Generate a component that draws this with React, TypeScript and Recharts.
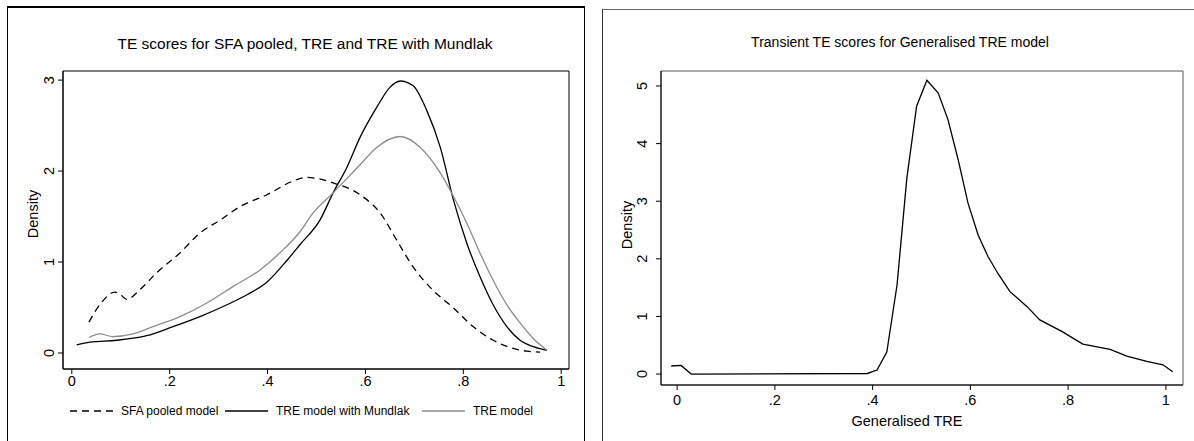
import React from "react";
import { LineChart, Line, XAxis, YAxis, ReferenceArea } from "recharts";

// ---------- Left panel data ----------
const sfaPooledX = [0.035, 0.06, 0.088, 0.1, 0.112, 0.14, 0.173, 0.221, 0.262, 0.303, 0.344, 0.399, 0.452, 0.48, 0.534, 0.589, 0.63, 0.664, 0.697, 0.738, 0.779, 0.82, 0.861, 0.902, 0.93, 0.957];
const sfaPooledY = [0.34, 0.55, 0.67, 0.64, 0.59, 0.7, 0.88, 1.1, 1.32, 1.46, 1.61, 1.74, 1.89, 1.93, 1.87, 1.74, 1.54, 1.24, 0.95, 0.69, 0.5, 0.29, 0.14, 0.05, 0.02, 0.01];

const treMundlakX = [0.01, 0.037, 0.092, 0.153, 0.207, 0.262, 0.317, 0.358, 0.399, 0.44, 0.466, 0.507, 0.534, 0.562, 0.589, 0.623, 0.65, 0.671, 0.697, 0.725, 0.753, 0.78, 0.807, 0.834, 0.861, 0.889, 0.916, 0.943, 0.971];
const treMundlakY = [0.09, 0.12, 0.14, 0.19, 0.29, 0.4, 0.53, 0.64, 0.78, 1.02, 1.19, 1.46, 1.76, 2.04, 2.37, 2.7, 2.92, 2.99, 2.94, 2.67, 2.26, 1.68, 1.21, 0.84, 0.53, 0.29, 0.14, 0.07, 0.03];

const treModelX = [0.035, 0.057, 0.084, 0.125, 0.166, 0.221, 0.276, 0.329, 0.384, 0.425, 0.466, 0.493, 0.534, 0.589, 0.623, 0.671, 0.712, 0.753, 0.78, 0.807, 0.834, 0.861, 0.889, 0.916, 0.943, 0.971];
const treModelY = [0.17, 0.21, 0.18, 0.21, 0.29, 0.4, 0.55, 0.73, 0.91, 1.1, 1.33, 1.54, 1.76, 2.07, 2.26, 2.38, 2.26, 1.98, 1.72, 1.43, 1.1, 0.8, 0.53, 0.33, 0.16, 0.03];

const leftXTicks = [0, 0.2, 0.4, 0.6, 0.8, 1];
const leftYTicks = [0, 1, 2, 3];

const leftSeriesNames = ["SFA pooled model", "TRE model with Mundlak", "TRE model"];
const leftSeriesColors = ["#000", "#000", "#8c8c8c"];
const leftSeriesDash = ["7 5", undefined, undefined];

// ---------- Right panel data ----------
const genTreX = [-0.012, 0.008, 0.029, 0.389, 0.409, 0.429, 0.45, 0.47, 0.49, 0.511, 0.534, 0.554, 0.575, 0.595, 0.616, 0.636, 0.656, 0.681, 0.716, 0.742, 0.787, 0.83, 0.886, 0.92, 0.961, 0.994, 1.014];
const genTreY = [0.14, 0.15, 0.0, 0.01, 0.07, 0.38, 1.55, 3.4, 4.65, 5.1, 4.88, 4.42, 3.72, 2.97, 2.41, 2.04, 1.75, 1.43, 1.17, 0.94, 0.74, 0.52, 0.43, 0.31, 0.22, 0.16, 0.04];

const rightXTicks = [0, 0.2, 0.4, 0.6, 0.8, 1];
const rightYTicks = [0, 1, 2, 3, 4, 5];

const zip = (xs: number[], ys: number[]) => xs.map((x, i) => ({ x, y: ys[i] }));

const leftSeriesData = [
  zip(sfaPooledX, sfaPooledY),
  zip(treMundlakX, treMundlakY),
  zip(treModelX, treModelY),
];
const genData = zip(genTreX, genTreY);

const FONT = '"Liberation Sans", Arial, Helvetica, sans-serif';
const TICK_FS = 14.5;

const fmtX = (v: number) => {
  if (v === 0) return "0";
  if (v === 1) return "1";
  return String(v).replace(/^0/, "");
};

const makeYTick = (shift: number) => (props: any) => {
  const { x, y, payload } = props;
  const cx = x - shift;
  return (
    <text
      x={cx}
      y={y}
      transform={`rotate(-90, ${cx}, ${y})`}
      textAnchor="middle"
      fontSize={TICK_FS}
      fontFamily={FONT}
      fill="#000"
    >
      {payload.value}
    </text>
  );
};
const LeftYTick = makeYTick(2);
const RightYTick = makeYTick(7);

const makeXTick = (dy: number) => (props: any) => {
  const { x, y, payload } = props;
  return (
    <text x={x} y={y + dy} textAnchor="middle" fontSize={TICK_FS} fontFamily={FONT} fill="#000">
      {fmtX(payload.value)}
    </text>
  );
};
const LeftXTick = makeXTick(10);
const RightXTick = makeXTick(13);

const legendLefts = [70, 225, 422];

export default function App() {
  return (
    <div style={{ position: "absolute", left: 0, top: 0, width: 1194, height: 441, background: "#fff", overflow: "hidden", fontFamily: FONT }}>
      {/* panel frames */}
      <div style={{ position: "absolute", left: 7, top: 6, width: 578, height: 460, borderTop: "2px solid #000", borderLeft: "1.5px solid #000", borderRight: "1.5px solid #000", boxSizing: "border-box" }} />
      <div style={{ position: "absolute", left: 602, top: 9, width: 620, height: 460, borderTop: "1.5px solid #666", borderLeft: "1.5px solid #333", boxSizing: "border-box" }} />

      {/* titles & axis titles */}
      <div style={{ position: "absolute", left: 0, width: 610, top: 35, textAlign: "center", fontSize: 15.5, color: "#000" }}>
        TE scores for SFA pooled, TRE and TRE with Mundlak
      </div>
      <div style={{ position: "absolute", left: 600, width: 600, top: 34, textAlign: "center", fontSize: 14, color: "#000" }}>
        Transient TE scores for Generalised TRE model
      </div>
      <div style={{ position: "absolute", left: 33 - 40, top: 206, width: 80, textAlign: "center", fontSize: 14.5, transform: "rotate(-90deg)" }}>Density</div>
      <div style={{ position: "absolute", left: 627 - 40, top: 217, width: 80, textAlign: "center", fontSize: 14.5, transform: "rotate(-90deg)" }}>Density</div>
      <div style={{ position: "absolute", left: 646, width: 522, top: 413, textAlign: "center", fontSize: 14.5 }}>Generalised TRE</div>

      {/* left legend */}
      {leftSeriesNames.map((name, i) => (
        <div key={name} style={{ position: "absolute", left: legendLefts[i], top: 404, display: "flex", alignItems: "center", fontSize: 12, whiteSpace: "nowrap" }}>
          <svg width={43} height={12} style={{ marginRight: 8 }}>
            <line x1={0} y1={6} x2={43} y2={6} stroke={leftSeriesColors[i]} strokeWidth={1.3} strokeDasharray={leftSeriesDash[i]} />
          </svg>
          <span>{name}</span>
        </div>
      ))}

      {/* left chart */}
      <div style={{ position: "absolute", left: 0, top: 0 }}>
        <LineChart width={600} height={441} margin={{ top: 71, left: 33, right: 31, bottom: 42 }}>
          <XAxis
            type="number"
            dataKey="x"
            domain={[-0.018, 1.016]}
            ticks={leftXTicks}
            allowDataOverflow
            height={30}
            tickSize={5}
            tick={<LeftXTick />}
            stroke="#000"
          />
          <YAxis
            type="number"
            dataKey="y"
            domain={[-0.176, 3.1]}
            ticks={leftYTicks}
            allowDataOverflow
            width={30}
            tickSize={5}
            tick={<LeftYTick />}
            stroke="#000"
          />
          <ReferenceArea x1={-0.018} x2={1.016} y1={-0.176} y2={3.1} fill="none" stroke="#000" strokeWidth={1} ifOverflow="visible" />
          {leftSeriesNames.map((name, i) => (
            <Line
              key={name}
              data={leftSeriesData[i]}
              dataKey="y"
              name={name}
              type="monotone"
              stroke={leftSeriesColors[i]}
              strokeWidth={1.3}
              strokeDasharray={leftSeriesDash[i]}
              dot={false}
              isAnimationActive={false}
            />
          ))}
        </LineChart>
      </div>

      {/* right chart */}
      <div style={{ position: "absolute", left: 600, top: 0 }}>
        <LineChart width={594} height={441} margin={{ top: 71, left: 31, right: 11, bottom: 26 }}>
          <XAxis
            type="number"
            dataKey="x"
            domain={[-0.033, 1.035]}
            ticks={rightXTicks}
            allowDataOverflow
            height={30}
            tickSize={5}
            tick={<RightXTick />}
            stroke="#000"
          />
          <YAxis
            type="number"
            dataKey="y"
            domain={[-0.19, 5.26]}
            ticks={rightYTicks}
            allowDataOverflow
            width={30}
            tickSize={5}
            tick={<RightYTick />}
            stroke="#000"
          />
          <ReferenceArea x1={-0.033} x2={1.035} y1={-0.19} y2={5.26} fill="none" stroke="#555" strokeWidth={1} ifOverflow="visible" />
          <Line data={genData} dataKey="y" name="Generalised TRE" type="linear" stroke="#000" strokeWidth={1.3} dot={false} isAnimationActive={false} />
        </LineChart>
      </div>
    </div>
  );
}
